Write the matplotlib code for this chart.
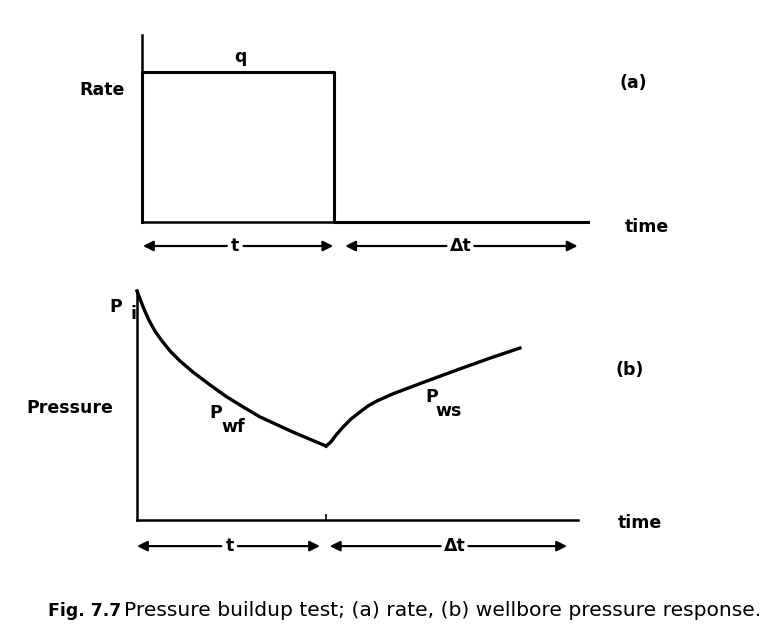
"""Pressure buildup test schematic: (a) rate history, (b) wellbore pressure."""

import matplotlib
matplotlib.use('Agg')
import matplotlib.pyplot as plt

# rate history (time in units of producing time t)
RATE_T = [0.0, 0.0, 1.0, 1.0, 2.32]
RATE_Q = [0.0, 1.0, 1.0, 0.0, 0.0]

# drawdown (P_wf) then buildup (P_ws), pressure normalised so P_i = 1
PWF_T = [0.0, 0.016, 0.037, 0.063, 0.095, 0.132, 0.175, 0.228, 0.296, 0.386,
	0.476, 0.571, 0.651, 0.825, 1.0]
PWF_P = [1.0, 0.965, 0.921, 0.873, 0.825, 0.782, 0.738, 0.694, 0.646, 0.590,
	0.537, 0.489, 0.450, 0.384, 0.323]
PWS_T = [1.0, 1.026, 1.053, 1.090, 1.132, 1.180, 1.222, 1.270, 1.354, 1.534,
	1.709, 1.868, 2.026]
PWS_P = [0.323, 0.341, 0.371, 0.406, 0.441, 0.472, 0.498, 0.520, 0.551, 0.607,
	0.660, 0.707, 0.751]

SHUT_IN = 1.0
T_SPAN_RATE = (0.005, 0.995, 1.057, 2.266)
T_SPAN_PRES = (0.0, 0.968, 1.02, 2.275)

LABEL_FONT = dict(fontsize=12.5, fontweight='bold', family='DejaVu Sans')

W, H = 767, 642
fig = plt.figure(figsize=(W / 100, H / 100), dpi=100)


def px_axes(left, right, top, bottom):
	return fig.add_axes([left / W, (H - bottom) / H, (right - left) / W,
		(bottom - top) / H])


def style_axes(ax):
	for side in ('top', 'right'):
		ax.spines[side].set_visible(False)
	for side in ('left', 'bottom'):
		ax.spines[side].set_linewidth(1.8)
	ax.set_facecolor('none')


def span_arrows(ax, spans, y, labels, label_x):
	a0, a1, b0, b1 = spans
	for (lo, hi), lab, lx in zip([(a0, a1), (b0, b1)], labels, label_x):
		ax.text(lx, y, lab, ha='center', va='center', **LABEL_FONT,
			clip_on=False)
		gap = 10 if len(lab) > 1 else 6
		for end in (lo, hi):
			ax.annotate('', xy=(end, y), xytext=(lx, y),
				arrowprops=dict(arrowstyle='-|>', color='k', lw=1.6,
					mutation_scale=15, shrinkA=gap, shrinkB=0),
				annotation_clip=False)


# (a) rate
ax1 = px_axes(142, 588, 35, 222)
style_axes(ax1)
ax1.plot(RATE_T, RATE_Q, color='k', lw=2.2, clip_on=False)
ax1.set_xlim(0, 2.32)
ax1.set_ylim(0, 1.247)
ax1.set_xticks([])
ax1.set_yticks([])
ax1.text(-0.089, 0.88, 'Rate', ha='right', va='center', **LABEL_FONT)
ax1.text(0.51, 1.1, 'q', ha='center', va='center', **LABEL_FONT)
ax1.text(2.557, 0.93, '(a)', ha='center', va='center', **LABEL_FONT,
	clip_on=False)
ax1.text(2.625, -0.033, 'time', ha='center', va='center', **LABEL_FONT,
	clip_on=False)
span_arrows(ax1, T_SPAN_RATE, -0.16, ['t', r'Δt'], [0.485, 1.656])

# (b) pressure
ax2 = px_axes(137, 578, 291, 520)
style_axes(ax2)
ax2.plot(PWF_T, PWF_P, color='k', lw=2.4, clip_on=False,
	solid_joinstyle='round')
ax2.plot(PWS_T, PWS_P, color='k', lw=2.4, clip_on=False,
	solid_joinstyle='round')
ax2.set_xlim(0, 2.333)
ax2.set_ylim(0, 1.0)
ax2.set_xticks([SHUT_IN])
ax2.set_xticklabels([])
ax2.tick_params(axis='x', direction='in', length=4, width=1.2)
ax2.set_yticks([])
ax2.text(-0.127, 0.489, 'Pressure', ha='right', va='center', **LABEL_FONT)
ax2.text(-0.111, 0.93, 'P', ha='center', va='center', **LABEL_FONT)
ax2.text(-0.021, 0.90, 'i', ha='center', va='center', **LABEL_FONT)
ax2.text(0.418, 0.467, 'P', ha='center', va='center', **LABEL_FONT)
ax2.text(0.508, 0.406, 'wf', ha='center', va='center', **LABEL_FONT)
ax2.text(1.56, 0.537, 'P', ha='center', va='center', **LABEL_FONT)
ax2.text(1.65, 0.476, 'ws', ha='center', va='center', **LABEL_FONT)
ax2.text(2.608, 0.655, '(b)', ha='center', va='center', **LABEL_FONT,
	clip_on=False)
ax2.text(2.66, -0.013, 'time', ha='center', va='center', **LABEL_FONT,
	clip_on=False)
span_arrows(ax2, T_SPAN_PRES, -0.114, ['t', r'Δt'], [0.49, 1.68])

# caption
fig.text(48 / W, (H - 611) / H, 'Fig. 7.7', ha='left', va='center',
	fontsize=12.5, fontweight='bold')
fig.text(124 / W, (H - 611) / H,
	'Pressure buildup test; (a) rate, (b) wellbore pressure response.',
	ha='left', va='center', fontsize=14.6)

fig.savefig('out.png', dpi=100)
